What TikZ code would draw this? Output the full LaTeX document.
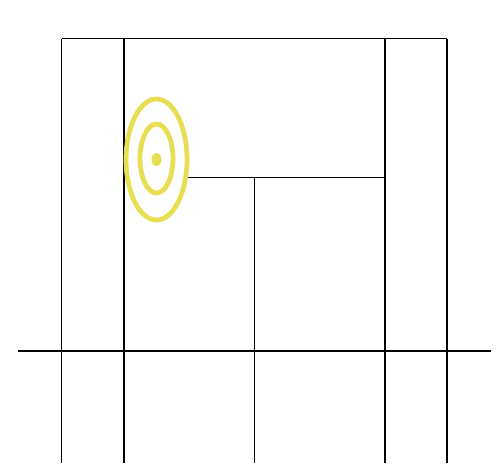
\documentclass[tikz,border=0pt]{standalone}
\usepackage{tikz}
\usetikzlibrary{calc}
\definecolor{targetyellow}{RGB}{232,222,82}

\begin{document}
\begin{tikzpicture}[x=0.02cm,y=-0.02cm,
	wall/.style={line width=1.1pt,black},
	ring/.style={draw=targetyellow,line width=2.7pt,fill=white}]
	\useasboundingbox (0,0) rectangle (499,463);
	%Corners
	\coordinate (A0) at (61.5,38.5);
	\coordinate (A1) at (124,38.5);
	\coordinate (A3) at (385,38.5);
	\coordinate (A4) at (447,38.5);
	\coordinate (M1) at (157,177.5);
	\coordinate (M2) at (254.5,177.5);
	\coordinate (M3) at (385,177.5);
	\coordinate (B0) at (61.5,463);
	\coordinate (B1) at (124,463);
	\coordinate (B2) at (254.5,463);
	\coordinate (B3) at (385,463);
	\coordinate (B4) at (447,463);
	\coordinate (L) at (18,350.7);
	\coordinate (R) at (491,350.7);
	%Walls
	\draw[wall]
		(A0) -- (A4)
		(A0) -- (B0)
		(A1) -- (B1)
		(A3) -- (B3)
		(A4) -- (B4)
		(M1) -- (M3)
		(M2) -- (B2)
		(L) -- (R)
	;
	%Target
	\draw[ring] (156.5,159.5) ellipse [x radius=30.5, y radius=60.5];
	\draw[ring] (156.5,158.5) ellipse [x radius=16.5, y radius=34.5];
	\fill[targetyellow] (156.5,159.5) ellipse [x radius=5, y radius=6.5];
\end{tikzpicture}
\end{document}
